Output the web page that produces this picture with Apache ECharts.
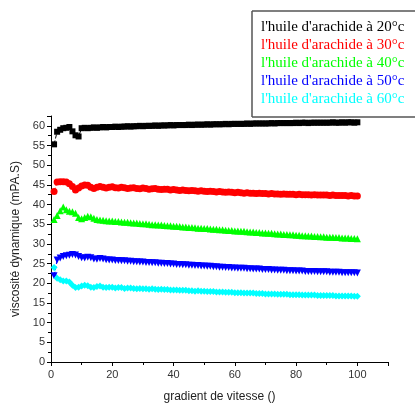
<!DOCTYPE html>
<html>
<head>
<meta charset="utf-8">
<script src="https://cdn.jsdelivr.net/npm/echarts@6/dist/echarts.min.js"></script>
<style>
html,body{margin:0;padding:0;background:#fff;}
#chart{width:415px;height:408px;}
</style>
</head>
<body>
<div id="chart"></div>
<script>
var seriesNames = ["l'huile d'arachide à 20°c", "l'huile d'arachide à 30°c", "l'huile d'arachide à 40°c", "l'huile d'arachide à 50°c", "l'huile d'arachide à 60°c"];
var xValues = [1,2,3,4,5,6,7,8,9,10,11,12,13,14,15,16,17,18,19,20,21,22,23,24,25,26,27,28,29,30,31,32,33,34,35,36,37,38,39,40,41,42,43,44,45,46,47,48,49,50,51,52,53,54,55,56,57,58,59,60,61,62,63,64,65,66,67,68,69,70,71,72,73,74,75,76,77,78,79,80,81,82,83,84,85,86,87,88,89,90,91,92,93,94,95,96,97,98,99,100];
var v20 = [55.3,58.5,59.0,59.4,59.5,59.7,58.6,57.6,57.3,59.4,
59.5,59.4,59.5,59.6,59.5,59.6,59.7,59.6,59.7,59.7,
59.8,59.7,59.8,59.8,59.9,59.8,59.9,59.9,60.0,59.9,
60.0,60.0,60.0,60.1,60.0,60.1,60.1,60.1,60.2,60.1,
60.2,60.2,60.2,60.2,60.3,60.2,60.3,60.3,60.3,60.3,
60.4,60.3,60.4,60.4,60.4,60.4,60.5,60.4,60.5,60.5,
60.5,60.5,60.5,60.6,60.5,60.6,60.6,60.6,60.6,60.6,
60.6,60.7,60.6,60.7,60.7,60.7,60.7,60.7,60.7,60.8,
60.7,60.8,60.8,60.7,60.8,60.8,60.8,60.8,60.8,60.8,
60.8,60.9,60.8,60.8,60.9,60.8,60.9,60.9,60.8,60.9];
var v30 = [43.3,45.7,45.8,45.8,45.7,45.3,44.6,43.7,44.2,44.7,
45.0,44.9,44.4,44.1,44.4,44.6,44.4,44.2,44.4,44.5,
44.3,44.2,44.4,44.3,44.1,44.2,44.3,44.1,44.0,44.2,
44.1,43.9,44.0,44.1,43.9,43.8,43.9,43.9,43.7,43.8,
43.7,43.6,43.7,43.6,43.5,43.6,43.5,43.4,43.5,43.4,
43.3,43.4,43.3,43.2,43.3,43.2,43.1,43.2,43.1,43.0,
43.1,43.0,42.9,43.0,42.9,42.9,42.8,42.9,42.8,42.8,
42.7,42.8,42.7,42.7,42.6,42.7,42.6,42.6,42.6,42.5,
42.6,42.5,42.5,42.5,42.4,42.5,42.4,42.4,42.4,42.4,
42.3,42.4,42.3,42.3,42.3,42.3,42.2,42.3,42.2,42.2];
var v40 = [36.2,37.2,38.4,39.4,38.7,38.3,38.2,37.8,36.7,36.4,
36.7,37.0,36.9,36.5,36.2,36.1,36.0,35.9,35.8,35.8,
35.7,35.7,35.6,35.5,35.5,35.4,35.3,35.3,35.2,35.1,
35.1,35.0,34.9,34.9,34.8,34.8,34.7,34.6,34.6,34.5,
34.5,34.4,34.3,34.3,34.2,34.2,34.1,34.0,34.0,33.9,
33.9,33.8,33.7,33.7,33.6,33.6,33.5,33.4,33.4,33.3,
33.3,33.2,33.2,33.1,33.0,33.0,32.9,32.9,32.8,32.8,
32.7,32.7,32.6,32.5,32.5,32.4,32.4,32.3,32.3,32.2,
32.2,32.1,32.1,32.0,32.0,31.9,31.9,31.8,31.8,31.7,
31.7,31.7,31.6,31.6,31.5,31.5,31.5,31.4,31.4,31.3];
var v50 = [21.9,25.9,26.4,26.8,27.0,27.1,27.3,27.2,26.8,26.5,
26.4,26.6,26.5,26.2,26.1,26.3,26.2,26.0,25.9,25.9,
25.8,25.8,25.7,25.7,25.6,25.6,25.5,25.5,25.4,25.4,
25.3,25.3,25.2,25.2,25.1,25.1,25.0,25.0,24.9,24.9,
24.8,24.8,24.7,24.7,24.6,24.6,24.5,24.5,24.4,24.4,
24.3,24.3,24.2,24.2,24.1,24.1,24.0,24.0,23.9,23.9,
23.8,23.8,23.8,23.7,23.7,23.6,23.6,23.6,23.5,23.5,
23.5,23.4,23.4,23.3,23.3,23.3,23.2,23.2,23.2,23.1,
23.1,23.1,23.0,23.0,23.0,23.0,22.9,22.9,22.9,22.9,
22.8,22.8,22.8,22.8,22.7,22.7,22.7,22.7,22.7,22.6];
var v60 = [24.0,21.3,20.9,20.6,20.6,20.3,19.5,18.9,19.0,19.3,
19.5,19.4,19.0,18.9,19.2,19.3,19.0,18.9,19.0,19.0,
18.8,18.9,18.9,18.7,18.8,18.8,18.7,18.6,18.7,18.6,
18.6,18.5,18.6,18.5,18.4,18.5,18.4,18.4,18.3,18.3,
18.3,18.2,18.2,18.2,18.1,18.1,18.0,18.1,18.0,18.0,
17.9,17.9,17.9,17.8,17.8,17.8,17.7,17.7,17.7,17.6,
17.6,17.6,17.5,17.5,17.5,17.5,17.4,17.4,17.4,17.3,
17.3,17.3,17.3,17.2,17.2,17.2,17.2,17.1,17.1,17.1,
17.1,17.0,17.0,17.0,17.0,17.0,16.9,16.9,16.9,16.9,
16.9,16.9,16.8,16.8,16.8,16.8,16.8,16.8,16.7,16.7];
var yTicks = [0,5,10,15,20,25,30,35,40,45,50,55,60];
var xTicks = [0,20,40,60,80,100];

var allValues = [v20, v30, v40, v50, v60];
var colors = ['#000000', '#ff0000', '#00ff00', '#0000ff', '#00ffff'];
var symbols = ['rect', 'circle', 'triangle', 'triangle', 'diamond'];
var rotates = [0, 0, 0, 180, 0];

function pairs(vals){
  return xValues.map(function(x, i){ return [x, vals[i]]; });
}

var series = allValues.map(function(vals, k){
  return {
    name: seriesNames[k],
    type: 'line',
    data: pairs(vals),
    symbol: symbols[k],
    symbolRotate: rotates[k],
    symbolSize: k === 0 ? 6 : 7,
    showAllSymbol: true,
    itemStyle: {color: colors[k]},
    lineStyle: {color: colors[k], width: 1, type: 'dashed'},
    animation: false
  };
});

var boxStroke = {stroke: '#555555', lineWidth: 1.5};

var chart = echarts.init(document.getElementById('chart'), null, {renderer: 'canvas'});
chart.setOption({
  backgroundColor: '#ffffff',
  animation: false,
  grid: {left: 51, right: 27, top: 116, bottom: 42, containLabel: false},
  graphic: [
    {type: 'line', silent: true, z: 0, shape: {x1: 252, y1: 11, x2: 415, y2: 11}, style: boxStroke},
    {type: 'line', silent: true, z: 0, shape: {x1: 252, y1: 11, x2: 252, y2: 117}, style: boxStroke},
    {type: 'line', silent: true, z: 0, shape: {x1: 252, y1: 117, x2: 415, y2: 117}, style: boxStroke}
  ],
  legend: {
    orient: 'vertical',
    left: 252,
    top: 11,
    padding: [9, 6, 9, 4],
    itemGap: 3,
    itemWidth: 0,
    itemHeight: 0,
    borderWidth: 0,
    borderColor: 'transparent',
    backgroundColor: 'transparent',
    z: 10,
    data: seriesNames.map(function(n, k){
      return {name: n, icon: 'rect', textStyle: {color: colors[k]}};
    }),
    textStyle: {fontFamily: 'Liberation Serif', fontSize: 15}
  },
  xAxis: {
    type: 'value',
    min: 0,
    max: 110,
    interval: 20,
    name: 'gradient de vitesse ()',
    nameLocation: 'middle',
    nameGap: 29,
    nameTextStyle: {fontFamily: 'Liberation Sans', fontSize: 12, color: '#222'},
    axisLine: {show: true, lineStyle: {color: '#000', width: 1}},
    axisTick: {show: true, inside: false, length: 4, lineStyle: {color: '#000'}},
    minorTick: {show: true, splitNumber: 2, length: 3, lineStyle: {color: '#000'}},
    splitLine: {show: false},
    axisLabel: {
      fontFamily: 'Liberation Sans', fontSize: 11, color: '#333', margin: 7,
      showMaxLabel: false,
      formatter: function(v){ return xTicks.indexOf(v) >= 0 ? String(v) : ''; }
    }
  },
  yAxis: {
    type: 'value',
    min: 0,
    max: 62.5,
    interval: 5,
    name: 'viscosité dynamique (mPA.S)',
    nameLocation: 'middle',
    nameGap: 25,
    nameTextStyle: {fontFamily: 'Liberation Sans', fontSize: 12, color: '#222'},
    axisLine: {show: true, lineStyle: {color: '#000', width: 1}},
    axisTick: {show: true, inside: false, length: 4, lineStyle: {color: '#000'}},
    minorTick: {show: true, splitNumber: 2, length: 3, lineStyle: {color: '#000'}},
    splitLine: {show: false},
    axisLabel: {
      fontFamily: 'Liberation Sans', fontSize: 11, color: '#333', margin: 6,
      showMaxLabel: false,
      formatter: function(v){ return yTicks.indexOf(v) >= 0 ? String(v) : ''; }
    }
  },
  series: series
});
</script>
</body>
</html>
